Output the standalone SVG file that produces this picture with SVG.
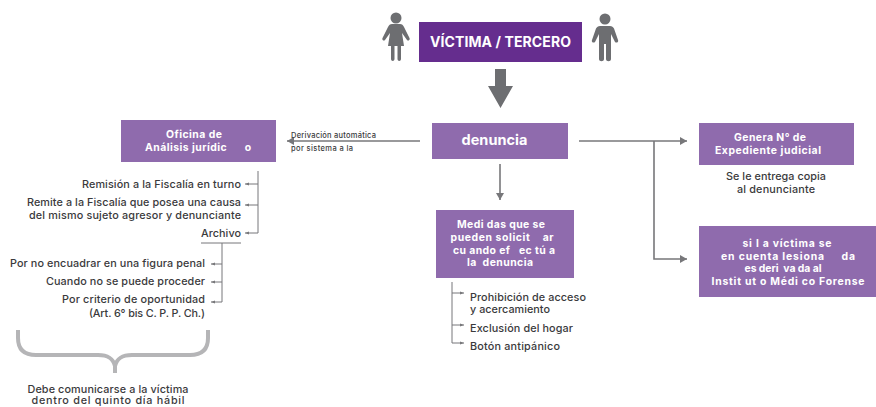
<svg xmlns="http://www.w3.org/2000/svg" width="876" height="407" viewBox="0 0 876 407">
<style>
text{font-family:"Inter","Liberation Sans",sans-serif;white-space:pre}
.b{fill:#8f6bad}
.w{fill:#fff;font-weight:700;font-size:10.400px;text-anchor:middle}
.t{fill:#3a3a3c;font-weight:500;font-size:10.800px}
.e{text-anchor:end}
.m{text-anchor:middle}
.l{stroke:#77777a;fill:none;stroke-width:1.600}
.s{stroke:#77777a;fill:none;stroke-width:1}
.g{fill:#6d6e71}
</style>
<defs>
<marker id="a" markerUnits="userSpaceOnUse" markerWidth="8" markerHeight="8" refX="7" refY="4" orient="auto"><path d="M0 0L7 4L0 8Z" fill="#77777a"/></marker>
<marker id="c" markerUnits="userSpaceOnUse" markerWidth="4" markerHeight="4" refX="4" refY="2" orient="auto"><path d="M0 0.500L4 2L0 3.500Z" fill="#77777a"/></marker>
</defs>
<g id="connectors">
<path class="g" d="M495 69H506V86H513L500.500 108L488 86H495Z"/>
<path class="l" d="M420 141H287" marker-end="url(#a)"/>
<path class="l" d="M579 141H687" marker-end="url(#a)"/>
<path class="l" d="M654 141V259H687" marker-end="url(#a)"/>
<path class="l" d="M500 164V200" marker-end="url(#a)"/>
<path class="s" d="M258 171V233"/>
<path class="s" d="M258 184H245" marker-end="url(#c)"/>
<path class="s" d="M258 205H245" marker-end="url(#c)"/>
<path class="s" d="M258 233H245" marker-end="url(#c)"/>
<path class="s" d="M201 243H241M222 243V302"/>
<path class="s" d="M222 264H211" marker-end="url(#c)"/>
<path class="s" d="M222 282H211" marker-end="url(#c)"/>
<path class="s" d="M222 302H211" marker-end="url(#c)"/>
<path class="s" d="M452 282V343"/>
<path class="s" d="M452 293H464" marker-end="url(#c)"/>
<path class="s" d="M452 325H464" marker-end="url(#c)"/>
<path class="s" d="M452 343H464" marker-end="url(#c)"/>
</g>
<g id="person-left" class="g">
<circle cx="396" cy="18" r="5.500"/>
<path d="M392 24H400C402 24 403 25 404 27L409.500 38C410.500 40 408 41.500 407 40L402 33L404 46H401V59C401 61.500 397.500 61.500 397.500 59V46H394.500V59C394.500 61.500 391 61.500 391 59V46H388L390 33L385 40C384 41.500 381.500 40 382.500 38L388 27C389 25 390 24 392 24Z"/>
</g>
<g id="person-right" class="g">
<circle cx="605" cy="19" r="5.500"/>
<path d="M600 26H610C612 26 613 27 614 28.500L618 40C619 42 616.500 43.500 615 42L611 34V59C611 62 606 62 606 59V44H604V59C604 62 599 62 599 59V34L595 42C593.500 43.500 591 42 592 40L596 28.500C597 27 598 26 600 26Z"/>
</g>
<g id="victima">
<rect x="419" y="22" width="163" height="40" fill="#652d8e"/>
<text x="500.500" y="46.500" fill="#fff" font-weight="700" font-size="14" text-anchor="middle" textLength="141">VÍCTIMA / TERCERO</text>
</g>
<g id="denuncia">
<rect class="b" x="432" y="123" width="136" height="36"/>
<text x="494.500" y="145" fill="#fff" font-weight="700" font-size="14.500" text-anchor="middle" textLength="66">denuncia</text>
</g>
<g id="derivacion">
<text x="291" y="138" fill="#3a3a3c" font-size="7.500px" font-weight="500" textLength="85">Derivación automática</text>
<text x="291" y="151" fill="#3a3a3c" font-size="7.500px" font-weight="500" textLength="62">por sistema a la</text>
</g>
<g id="oficina">
<rect class="b" x="121" y="120" width="155" height="42"/>
<text class="w" x="194" y="138" textLength="56">Oficina de</text>
<text class="w" x="198" y="151" textLength="106">Análisis jurídic      o</text>
</g>
<g id="medidas">
<rect class="b" x="436" y="210" width="138" height="68"/>
<text class="w" x="501" y="228" textLength="88">Medi das que se</text>
<text class="w" x="502" y="241" textLength="103">pueden solicit    ar</text>
<text class="w" x="504" y="253.500" textLength="102">cu ando ef   ec tú a</text>
<text class="w" x="500" y="266" textLength="66">la  denuncia</text>
</g>
<g id="genera">
<rect class="b" x="699" y="123" width="155" height="42"/>
<text class="w" x="770" y="140.500" textLength="72">Genera N° de</text>
<text class="w" x="768" y="153.500" textLength="106">Expediente judicial</text>
</g>
<g id="instituto">
<rect class="b" x="699" y="226" width="177" height="71"/>
<text class="w" x="787" y="246.500" textLength="89">si l a víctima se</text>
<text class="w" x="788" y="259.500" textLength="134">en cuenta lesiona     da</text>
<text class="w" x="783" y="272" textLength="77">es deri  va da al</text>
<text class="w" x="788" y="285" textLength="153">Instit ut o Médi co Forense</text>
</g>
<g id="textos">
<text class="t m" x="776" y="180" textLength="100">Se le entrega copia</text>
<text class="t m" x="776" y="193" textLength="78">al denunciante</text>
<text class="t e" x="241" y="188" textLength="159">Remisión a la Fiscalía en turno</text>
<text class="t e" x="241" y="206" textLength="214">Remite a la Fiscalía que posea una causa</text>
<text class="t e" x="241" y="219" textLength="212">del mismo sujeto agresor y denunciante</text>
<text class="t e" x="241" y="237" textLength="40">Archivo</text>
<text class="t e" x="205" y="267" textLength="195">Por no encuadrar en una figura penal</text>
<text class="t e" x="205" y="285" textLength="159">Cuando no se puede proceder</text>
<text class="t e" x="205" y="303" textLength="143">Por criterio de oportunidad</text>
<text class="t e" x="205" y="317" textLength="116">(Art. 6° bis C. P. P. Ch.)</text>
<text class="t" x="470" y="301" textLength="116">Prohibición de acceso</text>
<text class="t" x="470" y="313" textLength="80">y acercamiento</text>
<text class="t" x="470" y="332" textLength="103">Exclusión del hogar</text>
<text class="t" x="470" y="350" textLength="90">Botón antipánico</text>
<text class="t m" x="108" y="392.500" textLength="161">Debe comunicarse a la víctima</text>
<text class="t m" x="108" y="404" textLength="153">dentro del quinto día hábil</text>
</g>
<g id="llave">
<path d="M18 330V338C18 349 24 355 36 355H98C108 355 113 358 115 366V373M115 366C117 358 122 355 132 355H190C202 355 208 349 208 338V330" fill="none" stroke="#b5b5b7" stroke-width="4"/>
</g>
</svg>
